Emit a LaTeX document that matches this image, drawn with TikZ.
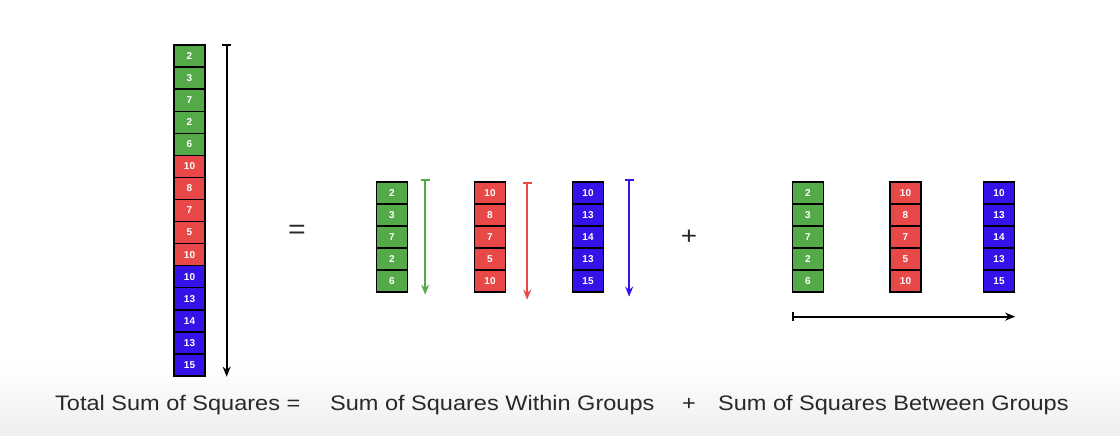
\documentclass[tikz,border=0pt]{standalone}
\usepackage{fontspec}
\setmainfont{Liberation Sans}
\newfontfamily\eqfont[FakeStretch=1.12]{Liberation Sans}
\usetikzlibrary{arrows.meta,positioning}

\definecolor{grpgreen}{RGB}{84,170,72}
\definecolor{grpred}{RGB}{232,72,72}
\definecolor{grpblue}{RGB}{52,18,232}
\definecolor{eqgray}{RGB}{40,40,40}

\tikzset{
    cell/.style={rectangle, draw=black, line width=1.3pt, minimum width=31pt, minimum height=22pt, inner sep=0pt, text=white, font=\fontsize{10}{11}\selectfont\bfseries},
    spread/.style={line width=1.8pt, {Bar[width=9pt]}-{Stealth[length=10pt,width=8pt]}},
    eqtext/.style={inner sep=0pt, text=eqgray, font=\eqfont\fontsize{21}{24}\selectfont},
}

\begin{document}
\begin{tikzpicture}[x=1pt, y=1pt]
    \useasboundingbox (0,0) rectangle (1120,436);
    \shade[top color=white, bottom color=gray!13] (0,0) rectangle (1120,72);

    % all values in one column
    \foreach \grp/\col [count=\g from 0] in {{2,3,7,2,6}/grpgreen, {10,8,7,5,10}/grpred, {10,13,14,13,15}/grpblue} {
        \foreach \v [count=\i] in \grp {
            \pgfmathtruncatemacro\k{\g*5+\i}
            \node (tot-\k) [cell, fill=\col] at (189.5, {391-22.07*(\k-0.5)}) {\v};
        }
    }

    % groups, twice
    \foreach \grp/\col/\xa/\xb/\n in {{2,3,7,2,6}/grpgreen/392/808/g, {10,8,7,5,10}/grpred/490/905.5/r, {10,13,14,13,15}/grpblue/588/999/b} {
        \foreach \v [count=\i] in \grp {
            \node (w\n-\i) [cell, fill=\col] at (\xa, {254-22*(\i-0.5)}) {\v};
            \node (b\n-\i) [cell, fill=\col] at (\xb, {254-22*(\i-0.5)}) {\v};
        }
    }

    \draw[spread] ([xshift=21pt]tot-1.north east) -- ([xshift=21pt]tot-15.south east);
    \draw[spread, grpgreen] ([xshift=17pt, yshift=2pt]wg-1.north east) -- ([xshift=17pt, yshift=-2pt]wg-5.south east);
    \draw[spread, grpred] ([xshift=21pt, yshift=-1pt]wr-1.north east) -- ([xshift=21pt, yshift=-7pt]wr-5.south east);
    \draw[spread, grpblue] ([xshift=25pt, yshift=2pt]wb-1.north east) -- ([xshift=25pt, yshift=-4pt]wb-5.south east);
    \draw[spread] ([yshift=-24pt]bg-5.south west) -- ([yshift=-24pt]bb-5.south east);

    \node (equals) [eqtext, font=\eqfont\fontsize{27}{30}\selectfont] at (297, 204) {=};
    \node (plus) [eqtext, font=\eqfont\fontsize{25}{30}\selectfont] at (689, 199) {+};

    \node (total) [eqtext, anchor=base west] at (55, 25) {Total Sum of Squares =};
    \node (within) [eqtext, anchor=base west] at (330, 25) {Sum of Squares Within Groups};
    \node (plus2) [eqtext, anchor=base] at (689, 25) {+};
    \node (between) [eqtext, anchor=base west] at (718, 25) {Sum of Squares Between Groups};
\end{tikzpicture}
\end{document}
